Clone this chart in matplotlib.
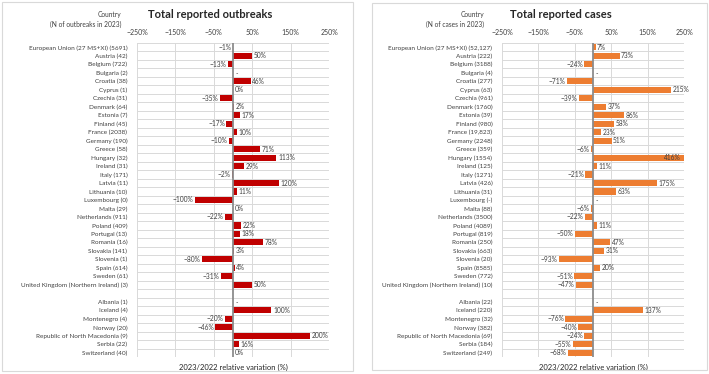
import matplotlib.pyplot as plt
from matplotlib.patches import Rectangle

plt.rcParams['font.family'] = ['Lato', 'DejaVu Sans']

# --- data ---
outbreak_labels = [
    "European Union (27 MS+XI) (5691)", "Austria (42)", "Belgium (722)", "Bulgaria (2)",
    "Croatia (38)", "Cyprus (1)", "Czechia (31)", "Denmark (64)", "Estonia (7)",
    "Finland (45)", "France (2038)", "Germany (190)", "Greece (58)", "Hungary (32)",
    "Ireland (31)", "Italy (171)", "Latvia (11)", "Lithuania (10)", "Luxembourg (0)",
    "Malta (29)", "Netherlands (911)", "Poland (409)", "Portugal (13)", "Romania (16)",
    "Slovakia (141)", "Slovenia (1)", "Spain (614)", "Sweden (61)",
    "United Kingdom (Northern Ireland) (3)", "",
    "Albania (1)", "Iceland (4)", "Montenegro (4)", "Norway (20)",
    "Republic of North Macedonia (9)", "Serbia (22)", "Switzerland (40)",
]
outbreak_values = [
    -1, 50, -13, None, 46, 0, -35, 2, 17, -17, 10, -10, 71, 113, 29, -2, 120, 11,
    -100, 0, -22, 22, 18, 78, 3, -80, 4, -31, 50, "blank",
    None, 100, -20, -46, 200, 16, 0,
]

case_labels = [
    "European Union (27 MS+XI) (52,127)", "Austria (222)", "Belgium (3188)", "Bulgaria (4)",
    "Croatia (277)", "Cyprus (63)", "Czechia (961)", "Denmark (1760)", "Estonia (39)",
    "Finland (980)", "France (19,823)", "Germany (2248)", "Greece (359)", "Hungary (1554)",
    "Ireland (125)", "Italy (1271)", "Latvia (426)", "Lithuania (31)", "Luxembourg (-)",
    "Malta (88)", "Netherlands (3500)", "Poland (4089)", "Portugal (819)", "Romania (250)",
    "Slovakia (663)", "Slovenia (20)", "Spain (8585)", "Sweden (772)",
    "United Kingdom (Northern Ireland) (10)", "",
    "Albania (22)", "Iceland (220)", "Montenegro (32)", "Norway (382)",
    "Republic of North Macedonia (69)", "Serbia (184)", "Switzerland (249)",
]
case_values = [
    7, 73, -24, None, -71, 215, -39, 37, 86, 58, 23, 51, -6, 416, 11, -21, 175, 63,
    None, -6, -22, 11, -50, 47, 31, -93, 20, -51, -47, "blank",
    None, 137, -76, -40, -24, -55, -68,
]

tick_vals = [-250, -150, -50, 50, 150, 250]

W, H = 709, 374
fig = plt.figure(figsize=(W / 100, H / 100), dpi=100)
TXT = "#404040"


def fx(px):
    return px / W


def fy(py):
    return 1 - py / H


def draw_panel(ax_rect, labels, values, color, title, title_x, head_x, head2):
    ax = fig.add_axes(ax_rect)
    n = len(labels)
    xmin, xmax = -250, 250
    ax.set_xlim(xmin, xmax)
    ax.set_ylim(n - 0.5, -0.5)

    for y in range(n + 1):
        ax.axhline(y - 0.5, color="#d9d9d9", lw=0.7, zorder=0)
    for t in tick_vals:
        ax.axvline(t, color="#d9d9d9", lw=0.7, zorder=0)

    for i, v in enumerate(values):
        if v == "blank":
            continue
        if v is None:
            ax.text(8, i + 0.1, "-", ha="left", va="center", fontsize=4.8, color=TXT)
            continue
        shown = max(min(v, xmax), xmin)
        ax.barh(i, shown, height=0.72, color=color, zorder=2)
        if v > xmax:
            ax.text(xmax - 8, i, f"{v}%", ha="right", va="center", fontsize=4.8,
                    color=TXT, zorder=3)
        elif v < 0:
            ax.text(v - 4, i, f"\u2212{abs(v)}%", ha="right", va="center", fontsize=4.8,
                    color=TXT)
        else:
            ax.text(v + 4, i, f"{v}%", ha="left", va="center", fontsize=4.8,
                    color=TXT)

    ax.axvline(0, color="#8c8c8c", lw=1.3, zorder=3)

    ax.set_yticks(range(n))
    ax.set_yticklabels(labels, fontsize=4.6, color=TXT)
    ax.tick_params(axis="y", length=0, pad=7)
    ax.xaxis.tick_top()
    ax.set_xticks(tick_vals)
    ax.set_xticklabels([f"\u2212{abs(t)}%" if t < 0 else f"{t}%" for t in tick_vals],
                       fontsize=5, color=TXT)
    ax.tick_params(axis="x", length=0, pad=5)
    for s in ax.spines.values():
        s.set_visible(False)

    ax.set_xlabel("2023/2022 relative variation (%)", fontsize=5.5, color="#262626",
                  labelpad=5)
    ax.xaxis.set_label_position("bottom")

    fig.text(fx(title_x), fy(15), title, ha="center", va="center", fontsize=8,
             fontweight="bold", color="#262626")
    fig.text(fx(head_x), fy(14), "Country", ha="right", va="center", fontsize=4.8,
             color=TXT)
    fig.text(fx(head_x), fy(24), head2, ha="right", va="center", fontsize=4.8,
             color=TXT)
    return ax


draw_panel([fx(137), fy(357), fx(329 - 137), (357 - 43) / H], outbreak_labels,
           outbreak_values, "#c00000", "Total reported outbreaks", 210, 121,
           "(N of outbreaks in 2023)")
draw_panel([fx(502), fy(357), fx(684 - 502), (357 - 43) / H], case_labels,
           case_values, "#ed7d31", "Total reported cases", 561, 484,
           "(N of cases in 2023)")

for x0, y0, x1, y1 in [(2, 2, 353, 371), (372, 3, 707, 370)]:
    fig.add_artist(Rectangle((fx(x0), fy(y1)), fx(x1 - x0), (y1 - y0) / H,
                             fill=False, edgecolor="#d9d9d9", lw=0.8,
                             transform=fig.transFigure))

fig.savefig("out.png", dpi=100)
